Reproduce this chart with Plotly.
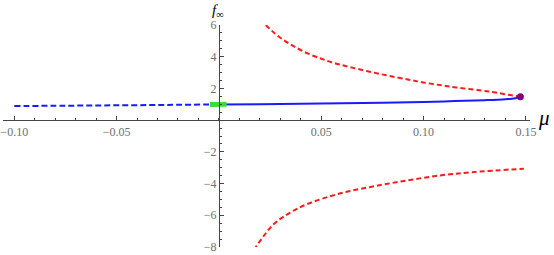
import plotly.graph_objects as go

# Data
mu_blue_dash = [-0.10, -0.075, -0.05, -0.025, 0.0]
f_blue_dash = [0.89, 0.91, 0.935, 0.96, 0.99]

mu_blue = [0.0, 0.02, 0.04, 0.06, 0.08, 0.10, 0.115, 0.13, 0.14, 0.145, 0.1473]
f_blue = [0.99, 1.01, 1.04, 1.06, 1.09, 1.15, 1.20, 1.26, 1.32, 1.38, 1.47]

mu_red_up = [0.0229, 0.0273, 0.0322, 0.0371, 0.0436, 0.0501, 0.0558, 0.0639, 0.0802,
             0.0928, 0.0997, 0.108, 0.116, 0.132, 0.1473]
f_red_up = [6.0, 5.47, 5.0, 4.62, 4.19, 3.87, 3.62, 3.35, 2.87,
            2.55, 2.38, 2.21, 2.06, 1.80, 1.47]

mu_red_low = [0.0171, 0.0265, 0.0346, 0.0428, 0.059, 0.0753, 0.0916, 0.1078, 0.124, 0.149]
f_red_low = [-8.19, -6.59, -5.85, -5.31, -4.63, -4.18, -3.81, -3.49, -3.28, -3.06]

mu_green = [-0.0044, 0.0037]
f_green = [0.99, 0.995]

mu_dot = [0.1473]
f_dot = [1.47]

x_ticks = [-0.10, -0.05, 0.05, 0.10, 0.15]
x_tick_labels = ["\u22120.10", "\u22120.05", "0.05", "0.10", "0.15"]
y_ticks = [-8, -6, -4, -2, 2, 4, 6]
y_tick_labels = ["\u22128", "\u22126", "\u22124", "\u22122", "2", "4", "6"]

xr = [-0.1055, 0.152]
yr = [-8, 6]

fig = go.Figure()
fig.add_trace(go.Scatter(x=mu_blue_dash, y=f_blue_dash, mode="lines",
                         line=dict(color="#1a1aff", width=2, dash="6px,3px"), line_shape="spline"))
fig.add_trace(go.Scatter(x=mu_blue, y=f_blue, mode="lines",
                         line=dict(color="#1a1aff", width=2), line_shape="spline"))
fig.add_trace(go.Scatter(x=mu_red_up, y=f_red_up, mode="lines",
                         line=dict(color="#ff1a1a", width=2, dash="5px,3px"), line_shape="spline"))
fig.add_trace(go.Scatter(x=mu_red_low, y=f_red_low, mode="lines",
                         line=dict(color="#ff1a1a", width=2, dash="5px,3px"), line_shape="spline"))
fig.add_trace(go.Scatter(x=mu_green, y=f_green, mode="lines",
                         line=dict(color="#33e033", width=5)))
fig.add_trace(go.Scatter(x=mu_dot, y=f_dot, mode="markers",
                         marker=dict(color="#800080", size=7)))

serif = "Liberation Serif, Times New Roman, serif"
font = dict(family=serif, size=12, color="#6e6e6e")

fig.update_layout(
    width=554, height=255,
    margin=dict(l=3, r=24, t=25, b=8, autoexpand=False),
    paper_bgcolor="white", plot_bgcolor="white",
    showlegend=False,
    xaxis=dict(range=xr, showgrid=False, zeroline=False, showline=True, automargin=False,
               linecolor="#444444", linewidth=1,
               anchor="free", position=(0 - yr[0]) / (yr[1] - yr[0]),
               tickmode="array", tickvals=x_ticks, ticktext=x_tick_labels,
               ticks="inside", ticklen=4, tickcolor="#444444", tickfont=font,
               minor=dict(ticks="inside", dtick=0.01, tick0=0, ticklen=2, tickcolor="#444444")),
    yaxis=dict(range=yr, showgrid=False, zeroline=False, showline=True, automargin=False,
               linecolor="#444444", linewidth=1,
               anchor="free", position=(0 - xr[0]) / (xr[1] - xr[0]),
               tickmode="array", tickvals=y_ticks, ticktext=y_tick_labels,
               ticks="inside", ticklen=4, tickcolor="#444444", tickfont=font,
               minor=dict(ticks="inside", dtick=0.5, tick0=0, ticklen=2, tickcolor="#444444")),
    annotations=[
        dict(x=1.0, y=0, xref="paper", yref="y", xanchor="left", yanchor="middle",
             xshift=6, yshift=2, text="<i>μ</i>", showarrow=False,
             font=dict(family=serif, size=21, color="black")),
        dict(x=0, y=1.0, xref="x", yref="paper", xanchor="center", yanchor="top",
             xshift=-1, yshift=25, text="<i>f</i><sub>∞</sub>", showarrow=False,
             font=dict(family=serif, size=15, color="black")),
    ],
)

fig.write_html("out.html", config={"displayModeBar": False},
               post_script="document.body.style.margin='0';document.body.style.overflow='hidden';")
